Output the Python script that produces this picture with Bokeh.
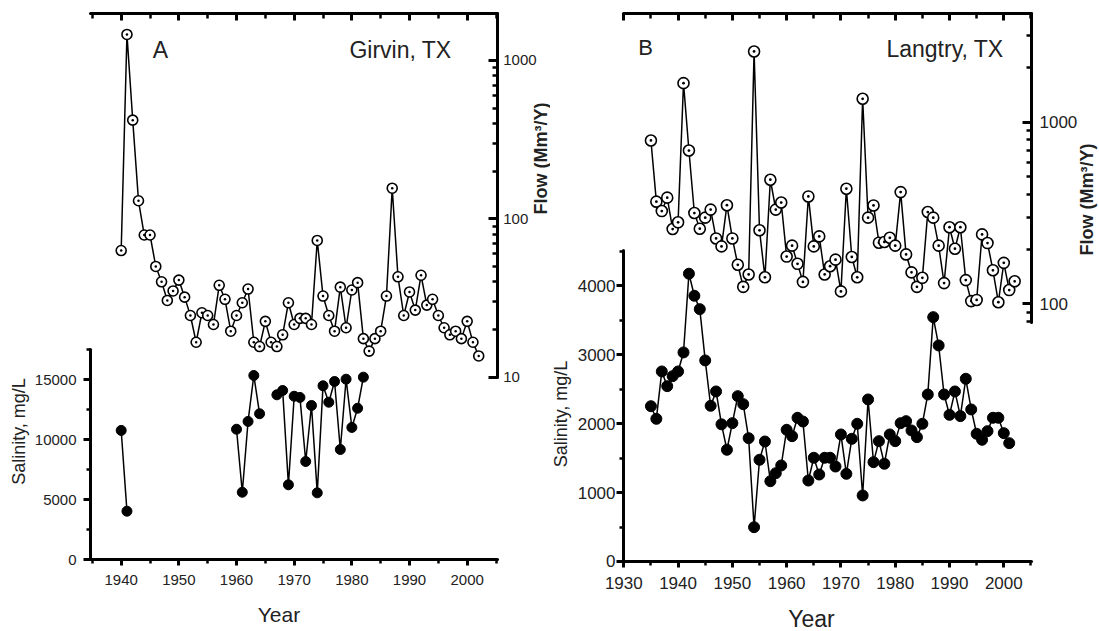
import math
from bokeh.plotting import figure
from bokeh.models import (Range1d, LogScale, LinearAxis, LogAxis, FixedTicker,
                          SingleIntervalTicker, PrintfTickFormatter, Label)
from bokeh.layouts import row
from bokeh.embed import file_html
from bokeh.resources import INLINE

FONT = "Liberation Sans"
HALF = math.pi / 2

# ---------------- data: Girvin, TX (panel A) ----------------
girvin_flow_years = list(range(1940, 2003))
girvin_flow = [63, 1460, 420, 130, 79, 79, 50, 40, 30.5, 35,
               41, 32, 24.5, 16.6, 25.5, 24.5, 21.5, 38, 31, 19.5,
               24.5, 29.5, 36, 16.6, 15.6, 22.5, 16.6, 15.6, 18.5, 29.5,
               21.5, 23.5, 23.5, 21.5, 73, 32.5, 24.5, 19.5, 37, 20.5,
               35.5, 39.5, 17.5, 14.6, 17.5, 19.5, 32.5, 156, 43, 24.5,
               34.5, 26.5, 44, 28.5, 31, 24.5, 20.5, 18.5, 19.5, 17.5,
               22.5, 16.6, 13.6]
girvin_sal_years = [1940, 1941, 1960, 1961, 1962, 1963, 1964, 1967, 1968, 1969,
                    1970, 1971, 1972, 1973, 1974, 1975, 1976, 1977, 1978, 1979,
                    1980, 1981, 1982]
girvin_sal = [10780, 4050, 10880, 5630, 11530, 15360, 12170, 13750, 14110, 6250,
              13630, 13530, 8190, 12860, 5580, 14500, 13130, 14860, 9190, 15050,
              11030, 12630, 15220]

# ---------------- data: Langtry, TX (panel B) ----------------
langtry_flow_years = list(range(1935, 2003))
langtry_flow = [793, 365, 324, 384, 258, 281, 1640, 698, 316, 259,
                298, 330, 229, 207, 349, 229, 164, 124, 145, 2450,
                254, 140, 482, 330, 361, 182, 209, 166, 132, 390,
                207, 235, 145, 161, 175, 117, 430, 181, 140, 1345,
                298, 348, 217, 219, 231, 209, 412, 187, 149, 124,
                139, 320, 298, 209, 130, 264, 201, 264, 135, 103.5,
                105, 241, 216, 153, 102, 168, 119, 133]
langtry_sal_years = list(range(1935, 2002))
langtry_sal = [2253, 2070, 2757, 2544, 2689, 2757, 3033, 4175, 3855, 3661,
               2917, 2259, 2467, 1990, 1621, 2007, 2399, 2283, 1789, 498,
               1476, 1741, 1165, 1281, 1393, 1911, 1818, 2085, 2031, 1175,
               1505, 1262, 1505, 1505, 1378, 1843, 1272, 1780, 1998, 958,
               2351, 1441, 1746, 1418, 1843, 1746, 2007, 2036, 1901, 1804,
               1998, 2423, 3545, 3134, 2423, 2128, 2467, 2109, 2651, 2206,
               1853, 1766, 1891, 2085, 2085, 1862, 1717]


def split_gaps(years, vals):
    xs, ys = [], []
    for i, (yr, v) in enumerate(zip(years, vals)):
        if i > 0 and yr - years[i - 1] > 1:
            xs.append(float("nan"))
            ys.append(float("nan"))
        xs.append(yr)
        ys.append(v)
    return xs, ys


def style(ax, fs, lw=3):
    ax.axis_line_width = lw
    ax.axis_line_color = "black"
    ax.axis_line_cap = "round"
    ax.major_tick_line_width = lw
    ax.minor_tick_line_width = lw - 0.5
    ax.major_tick_line_color = "black"
    ax.minor_tick_line_color = "black"
    ax.major_label_text_font = FONT
    ax.major_label_text_font_size = fs
    ax.major_label_text_color = "#222222"


def make_panel(c):
    p = figure(frame_width=c["w"], frame_height=631,
               x_range=Range1d(*c["xr"]), y_range=Range1d(*c["sr"]),
               output_backend="svg", toolbar_location=None,
               min_border=0, min_border_left=0, min_border_right=0,
               min_border_top=0, min_border_bottom=0,
               x_axis_location=None, y_axis_location=None)
    p.extra_y_ranges = {"flow": Range1d(*c["fr"])}
    p.extra_y_scales = {"flow": LogScale()}
    p.outline_line_color = None
    p.xgrid.visible = False
    p.ygrid.visible = False
    p.background_fill_color = "white"
    p.border_fill_color = "white"

    x0, x1 = c["xb"]
    fs = c["tick_fs"]

    # bottom year axis
    xb = LinearAxis(ticker=SingleIntervalTicker(interval=10, num_minor_ticks=2),
                    fixed_location=0, bounds=(x0, x1))
    style(xb, fs)
    xb.major_tick_out, xb.major_tick_in = 6, 0
    xb.minor_tick_out, xb.minor_tick_in = 4, 0
    xb.major_label_standoff = c["xstand"]
    p.add_layout(xb, "below")

    # top axis (ticks only)
    xt = LinearAxis(ticker=SingleIntervalTicker(interval=10, num_minor_ticks=2),
                    fixed_location=c["top_loc"], bounds=(x0, x1))
    style(xt, "0px")
    xt.major_tick_in, xt.major_tick_out = 7, 0
    xt.minor_tick_in, xt.minor_tick_out = 5, 0
    xt.major_label_text_alpha = 0
    p.add_layout(xt, "above")

    # left salinity axis
    yl = LinearAxis(ticker=SingleIntervalTicker(interval=c["sint"], num_minor_ticks=2),
                    fixed_location=x0, bounds=c["sbounds"])
    style(yl, fs)
    yl.major_tick_out, yl.major_tick_in = 7, 0
    yl.minor_tick_out, yl.minor_tick_in = 4, 0
    yl.major_label_standoff = c["ystand"]
    p.add_layout(yl, "left")

    # right flow axis (log)
    yr = LogAxis(y_range_name="flow",
                 ticker=FixedTicker(ticks=c["fmaj"], minor_ticks=c["fmin"]),
                 formatter=PrintfTickFormatter(format="%d"),
                 fixed_location=x1, bounds=c["fbounds"])
    style(yr, fs)
    yr.major_tick_in, yr.major_tick_out = 9, 0
    yr.minor_tick_in, yr.minor_tick_out = 5, 0
    yr.major_label_standoff = c["rstand"]
    p.add_layout(yr, "right")

    # flow series (log scale)
    p.line(c["fy"], c["fv"], y_range_name="flow", line_color="black", line_width=1.5)
    p.scatter(c["fy"], c["fv"], y_range_name="flow", marker="circle_dot",
              size=c["msize"], fill_color="white", line_color="black", line_width=1.6)

    # salinity series
    sx, sy = split_gaps(c["sy"], c["sv"])
    p.line(sx, sy, line_color="black", line_width=1.5)
    p.scatter(c["sy"], c["sv"], marker="circle", size=c["msize"],
              fill_color="black", line_color="black")

    # texts
    for text, x, y, size, ang, bold in c["labels"]:
        p.add_layout(Label(x=x, y=y, x_units="screen", y_units="screen", text=text,
                           text_font=FONT, text_font_size=size, text_align="center",
                           text_baseline="middle", angle=ang, angle_units="rad",
                           text_font_style="bold" if bold else "normal",
                           text_color="#222222"))
    return p


cfgA = dict(w=550,
            xr=(1919.07, 2014.45), sr=(-5975, 46608), fr=(0.2472, 2393),
            xb=(1934.68, 2005.22), top_loc=45525,
            sint=5000, sbounds=(0, 17500), fbounds=(10, 1983),
            fmaj=[10, 100, 1000],
            fmin=[20, 30, 40, 50, 60, 70, 80, 90, 200, 300, 400, 500, 600, 700, 800, 900],
            tick_fs="15px", xstand=9, ystand=7, rstand=6, msize=10,
            fy=girvin_flow_years, fv=girvin_flow, sy=girvin_sal_years, sv=girvin_sal,
            labels=[("A", 160, 582, "23px", 0, False),
                    ("Girvin, TX", 400, 582, "23px", 0, False),
                    ("Year", 278.5, 17, "21px", 0, False),
                    ("Salinity, mg/L", 18, 200, "18px", HALF, False),
                    ("Flow (Mm³/Y)", 540, 473, "18px", HALF, True)])

cfgB = dict(w=549,
            xr=(1916.50, 2017.63), sr=(-1015.5, 8138.5), fr=(1.569, 4677),
            xb=(1929.95, 2005.1), top_loc=7950,
            sint=1000, sbounds=(0, 4510), fbounds=(79, 3968),
            fmaj=[100, 1000],
            fmin=[80, 90, 200, 300, 400, 500, 600, 700, 800, 900, 2000, 3000],
            tick_fs="17px", xstand=10, ystand=1, rstand=8, msize=11,
            fy=langtry_flow_years, fv=langtry_flow, sy=langtry_sal_years, sv=langtry_sal,
            labels=[("B", 95, 584, "22px", 0, False),
                    ("Langtry, TX", 394.5, 583, "23px", 0, False),
                    ("Year", 261, 13, "23px", 0, False),
                    ("Salinity, mg/L", 10, 217.5, "18px", HALF, False),
                    ("Flow (Mm³/Y)", 536, 432, "18px", HALF, True)])

pA = make_panel(cfgA)
pB = make_panel(cfgB)
layout = row(pA, pB)
open("out.html", "w").write(file_html(layout, INLINE))
